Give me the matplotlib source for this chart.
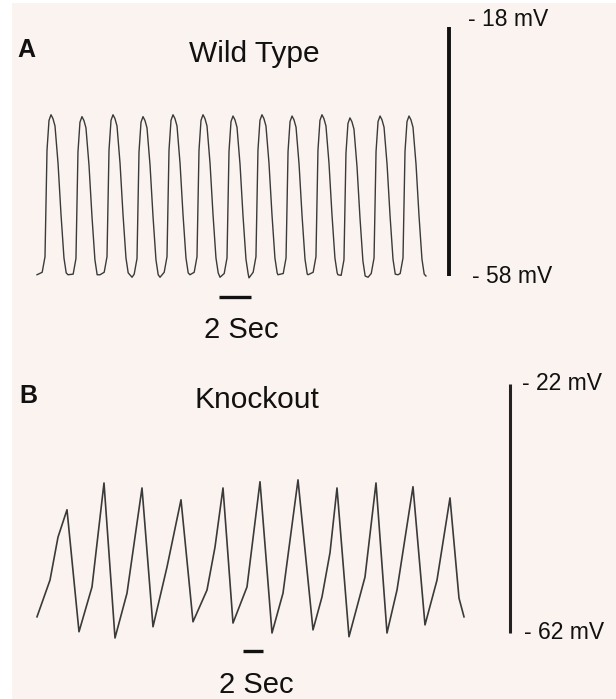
import numpy as np
import matplotlib.pyplot as plt
from matplotlib.patches import Rectangle

plt.rcParams['font.family'] = ['Liberation Sans', 'DejaVu Sans']

## WILD TYPE trace (s, mV)
wt_peak_s = [0.875, 2.81, 4.75, 6.625, 8.5, 10.375, 12.25, 14.06, 15.94, 17.81, 19.56, 21.44, 23.25]
wt_peak_mv = [-32.1, -32.4, -32.1, -32.4, -32.1, -32.1, -32.3, -32.1, -32.3, -32.1, -32.6, -32.3, -32.3]
wt_trough_s = [0.0, 1.94, 3.94, 5.94, 7.69, 9.56, 11.44, 13.25, 15.06, 16.94, 18.81, 20.69, 22.56, 24.31]
wt_trough_mv = [-57.8, -57.8, -57.8, -58.2, -58.2, -57.8, -58.2, -58.3, -57.8, -57.8, -57.8, -58.2, -57.8, -58.0]
# one beat read around its peak (s from peak, mV from peak)
wt_shape_dt = [-0.55, -0.375, -0.25, -0.125, 0.0, 0.12, 0.25, 0.44, 0.625, 0.81, 0.95]
wt_shape_dmv = [-25.3, -22.8, -5.7, -0.9, 0.0, -0.6, -1.8, -7.8, -16.0, -23.0, -25.4]

## KNOCKOUT trace (s, mV)
ko_peak_s = [3.0, 6.7, 10.5, 14.4, 18.6, 22.3, 26.1, 30.0, 33.9, 37.6, 41.3]
ko_peak_mv = [-42.2, -37.9, -38.7, -40.6, -38.7, -37.7, -37.4, -38.7, -37.9, -38.5, -40.3]
ko_trough_s = [0.0, 4.2, 7.8, 11.6, 15.6, 19.6, 23.5, 27.6, 31.2, 35.0, 38.8, 42.7]
ko_trough_mv = [-59.4, -61.8, -62.8, -61.0, -60.2, -60.4, -62.0, -61.5, -62.6, -62.0, -60.7, -59.4]
ko_slope_s = [1.3, 2.1, 5.5, 9.0, 13.0, 17.0, 17.8, 21.0, 24.6, 28.5, 29.3, 32.8, 36.0, 40.0, 42.2]
ko_slope_mv = [-53.5, -46.6, -54.6, -55.6, -51.4, -55.1, -48.2, -54.6, -55.6, -56.2, -49.1, -53.0, -55.1, -53.5, -56.4]

W, H = 616, 699
fig = plt.figure(figsize=(W / 100, H / 100), dpi=100, facecolor='white')
fig.patches.append(Rectangle((12 / W, 0), 1, (H - 3) / H, transform=fig.transFigure,
                             facecolor='#fbf3f0', edgecolor='none', zorder=-10))

trace_col = '#3a3a3a'
txt_col = '#111111'


def wt_trace():
    t = list(wt_trough_s)
    v = list(wt_trough_mv)
    for pt, pv in zip(wt_peak_s, wt_peak_mv):
        t += [pt + d for d in wt_shape_dt]
        v += [pv + d for d in wt_shape_dmv]
    order = np.argsort(t)
    return np.array(t)[order], np.array(v)[order]


def ko_trace():
    t = ko_peak_s + ko_trough_s + ko_slope_s
    v = ko_peak_mv + ko_trough_mv + ko_slope_mv
    order = np.argsort(t)
    return np.array(t)[order], np.array(v)[order]


# panel A: rows 0-345 px, 16 px per s, 6.225 px per mV
axa = fig.add_axes([0, (H - 345) / H, 1, 345 / H])
axa.set_xlim(-37 / 16, (W - 37) / 16)
axa.set_ylim(-18 - (345 - 27) / 6.225, -18 + 27 / 6.225)
axa.axis('off')
t, v = wt_trace()
axa.plot(t, v, color=trace_col, lw=1.0)
axa.plot([25.75, 25.75], [-18, -58], color='#111111', lw=2.8, solid_capstyle='butt')
axa.plot([11.375, 13.375], [-61.4, -61.4], color='#111111', lw=2.4, solid_capstyle='butt')
axa.text(12.8, -67.96, '2 Sec', fontsize=21, ha='center', va='baseline', color=txt_col)
axa.text(13.56, -23.6, 'Wild Type', fontsize=21.5, ha='center', va='baseline', color=txt_col)
axa.text(-1.25, -22.8, 'A', fontsize=18, fontweight='bold', ha='left', va='baseline', color=txt_col)
axa.text(26.94, -17.84, '- 18 mV', fontsize=16.5, ha='left', va='baseline', color=txt_col)
axa.text(27.19, -59.1, '- 58 mV', fontsize=16.5, ha='left', va='baseline', color=txt_col)

# panel B: rows 345-699 px, 10 px per s
axb = fig.add_axes([0, 0, 1, (H - 345) / H])
axb.set_xlim(-3.7, (W - 37) / 10)
axb.set_ylim(-22 - (H - 384) / 6.225, -22 + (384 - 345) / 6.225)
axb.axis('off')
t, v = ko_trace()
axb.plot(t, v, color=trace_col, lw=1.2)
axb.plot([47.3, 47.3], [-22, -62], color='#222222', lw=2.2, solid_capstyle='butt')
axb.plot([20.6, 22.6], [-64.9, -64.9], color='#111111', lw=2.4, solid_capstyle='butt')
axb.text(21.9, -71.64, '2 Sec', fontsize=21, ha='center', va='baseline', color=txt_col)
axb.text(21.95, -25.9, 'Knockout', fontsize=21.5, ha='center', va='baseline', color=txt_col)
axb.text(-1.8, -25.05, 'B', fontsize=18, fontweight='bold', ha='left', va='baseline', color=txt_col)
axb.text(48.5, -22.96, '- 22 mV', fontsize=16.5, ha='left', va='baseline', color=txt_col)
axb.text(48.7, -62.96, '- 62 mV', fontsize=16.5, ha='left', va='baseline', color=txt_col)

fig.savefig('out.png', dpi=100, facecolor=fig.get_facecolor())
